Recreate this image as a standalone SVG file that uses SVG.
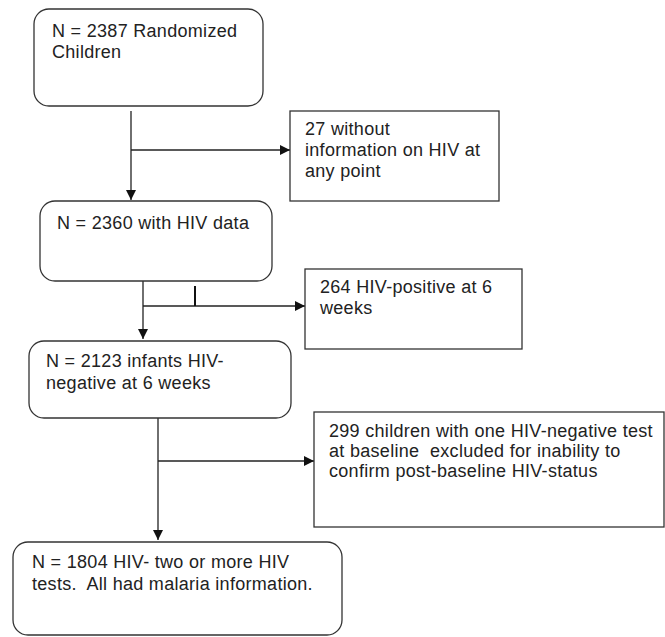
<svg xmlns="http://www.w3.org/2000/svg" width="665" height="637" viewBox="0 0 665 637">
<defs>
<style>
.box{fill:#fff;stroke:#333;stroke-width:1.3}
.t{font-family:"Liberation Sans",Arial,sans-serif;font-size:18px;fill:#222;letter-spacing:0.3px}
.c{fill:none;stroke:#222;stroke-width:1.3}
</style>
<marker id="ah" viewBox="0 0 10 10" refX="10" refY="5" markerWidth="10" markerHeight="10" markerUnits="userSpaceOnUse" orient="auto">
<path d="M0,0 L10,5 L0,10 z" fill="#111"/>
</marker>
</defs>
<rect width="665" height="637" fill="#fff"/>
<g id="connectors">
<line class="c" x1="131" y1="111" x2="131" y2="200" marker-end="url(#ah)"/>
<line class="c" x1="131" y1="150" x2="290" y2="150" marker-end="url(#ah)"/>
<line class="c" x1="143" y1="281" x2="143" y2="339" marker-end="url(#ah)"/>
<line class="c" x1="143" y1="306" x2="305" y2="306" marker-end="url(#ah)"/>
<line x1="195" y1="286" x2="195" y2="306" stroke="#111" stroke-width="2"/>
<line class="c" x1="158" y1="418" x2="158" y2="540" marker-end="url(#ah)"/>
<line class="c" x1="158" y1="461" x2="314" y2="461" marker-end="url(#ah)"/>
</g>
<g id="n1">
<rect class="box" x="34" y="9" width="229" height="97" rx="15"/>
<text class="t" x="52" y="37">N = 2387 Randomized</text>
<text class="t" x="52" y="58">Children</text>
</g>
<g id="n2">
<rect class="box" x="290" y="111" width="209" height="90"/>
<text class="t" x="305" y="135">27 without</text>
<text class="t" x="305" y="156">information on HIV at</text>
<text class="t" x="305" y="177">any point</text>
</g>
<g id="n3">
<rect class="box" x="40" y="201" width="232" height="80" rx="15"/>
<text class="t" x="57" y="229">N = 2360 with HIV data</text>
</g>
<g id="n4">
<rect class="box" x="305" y="269" width="217" height="80"/>
<text class="t" x="320" y="293">264 HIV-positive at 6</text>
<text class="t" x="320" y="314">weeks</text>
</g>
<g id="n5">
<rect class="box" x="29" y="341" width="262" height="77" rx="15"/>
<text class="t" x="46" y="367">N = 2123 infants HIV-</text>
<text class="t" x="46" y="389">negative at 6 weeks</text>
</g>
<g id="n6">
<rect class="box" x="314" y="412" width="350" height="115"/>
<text class="t" x="329" y="437">299 children with one HIV-negative test</text>
<text class="t" x="329" y="457" xml:space="preserve">at baseline  excluded for inability to</text>
<text class="t" x="329" y="477">confirm post-baseline HIV-status</text>
</g>
<g id="n7">
<rect class="box" x="13" y="542" width="329" height="93" rx="15"/>
<text class="t" x="32" y="568">N = 1804 HIV- two or more HIV</text>
<text class="t" x="32" y="590" xml:space="preserve">tests.  All had malaria information.</text>
</g>
</svg>
